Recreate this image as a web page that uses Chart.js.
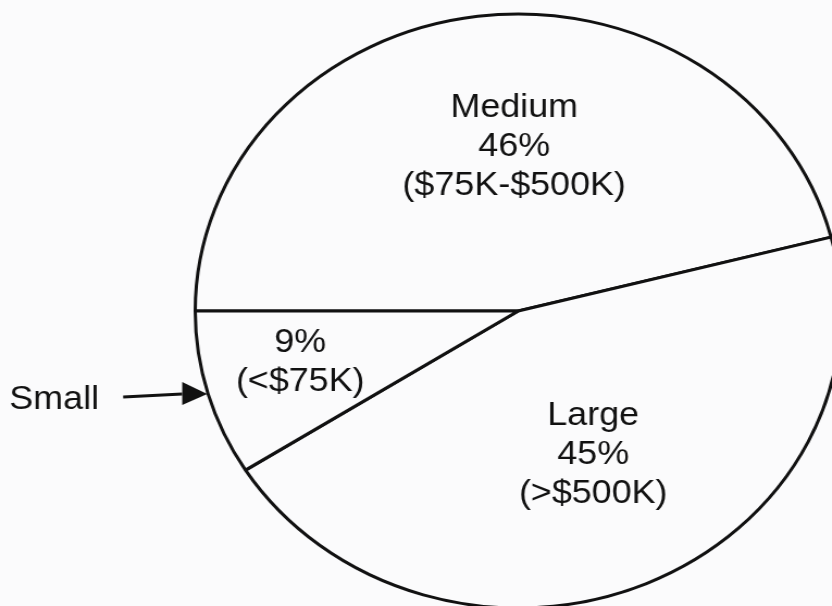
<!DOCTYPE html>
<html>
<head>
<meta charset="utf-8">
<script src="https://cdn.jsdelivr.net/npm/chart.js@4.4.1/dist/chart.umd.min.js"></script>
<style>
html, body { margin: 0; padding: 0; width: 832px; height: 606px; overflow: hidden; background: #fbfbfc; }
/* the scanned original is a little wider than tall, so the whole canvas is stretched */
#wrap { position: absolute; left: 0; top: 0; width: 765px; height: 606px; transform: scaleX(1.0875); transform-origin: 0 0; }
</style>
</head>
<body>
<div id="wrap"><canvas id="pieChart" width="765" height="606"></canvas></div>
<script>
const categories = ['Medium', 'Large', 'Small'];
const shares = [46, 45, 9];
const ranges = ['($75K-$500K)', '(>$500K)', '(<$75K)'];

const SX = 1.0875;
const INK = '#111111';
const FONT = '33px "Liberation Sans", Arial, sans-serif';

// label spots, in screen px relative to the pie centre
const spots = [
    { dx: -4, dy: -194, name: true },
    { dx: 75, dy: 114, name: true },
    { dx: -218, dy: 41, name: false }
];

const sliceLabels = {
    id: 'sliceLabels',
    afterDatasetsDraw(chart) {
        const ctx = chart.ctx;
        const meta = chart.getDatasetMeta(0);
        ctx.save();
        ctx.fillStyle = INK;
        ctx.font = FONT;
        ctx.textAlign = 'center';
        ctx.textBaseline = 'alphabetic';
        meta.data.forEach((arc, i) => {
            const s = spots[i];
            const lines = s.name ? [categories[i], shares[i] + '%', ranges[i]] : [shares[i] + '%', ranges[i]];
            lines.forEach((t, k) => ctx.fillText(t, arc.x + s.dx / SX, arc.y + s.dy + k * 39));
        });

        // "Small" callout with arrow to the thin slice
        const arc = meta.data[2];
        const cx = arc.x, cy = arc.y;
        ctx.fillText(categories[2], cx - 464 / SX, cy + 98);
        ctx.strokeStyle = INK;
        ctx.lineWidth = 3;
        ctx.beginPath();
        ctx.moveTo(cx - 395 / SX, cy + 86);
        ctx.lineTo(cx - 336 / SX, cy + 83);
        ctx.stroke();
        ctx.beginPath();
        ctx.moveTo(cx - 311 / SX, cy + 83);
        ctx.lineTo(cx - 336 / SX, cy + 71);
        ctx.lineTo(cx - 336 / SX, cy + 94);
        ctx.closePath();
        ctx.fill();
        ctx.restore();
    }
};

new Chart(document.getElementById('pieChart').getContext('2d'), {
    type: 'pie',
    data: {
        labels: categories,
        datasets: [{
            data: shares,
            backgroundColor: '#fbfbfc',
            borderColor: INK,
            borderWidth: 3,
            radius: 297
        }]
    },
    options: {
        responsive: false,
        animation: false,
        rotation: 270,
        layout: { padding: { left: 188, top: 16, right: 0, bottom: 0 } },
        plugins: { legend: { display: false }, tooltip: { enabled: false } }
    },
    plugins: [sliceLabels]
});
</script>
</body>
</html>
